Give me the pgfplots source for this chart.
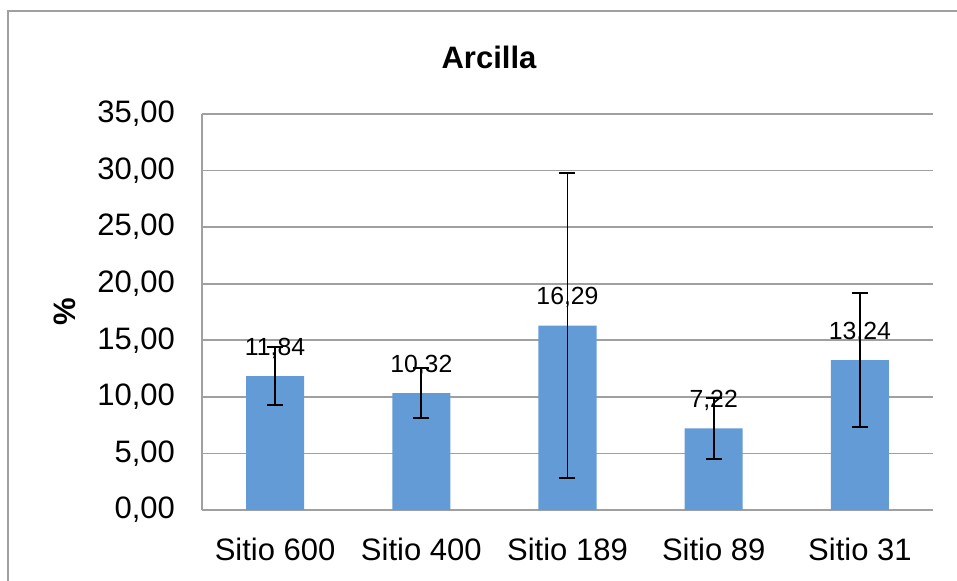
\documentclass[border=0pt]{standalone}
\usepackage{pgfplots}
\pgfplotsset{compat=1.18}
\usepackage{fontspec}
\setmainfont{Liberation Sans}
\definecolor{barblue}{RGB}{99,155,215}
\definecolor{gridgray}{RGB}{160,160,160}
\begin{document}
\begin{tikzpicture}[x=1pt,y=1pt]
\clip (-101,-35) rectangle (377.5,255);
\draw[gridgray, line width=0.8pt] (-97,-40) -- (-97,249.5) -- (390,249.5);
\begin{axis}[
  at={(0,0)}, anchor=south west,
  scale only axis,
  width=365.5pt, height=198pt,
  ymin=0, ymax=35, ytick={0,5,...,35},
  xmin=-0.5, xmax=4.5,
  xtick={0,1,2,3,4},
  xticklabels={Sitio 600,Sitio 400,Sitio 189,Sitio 89,Sitio 31},
  ymajorgrids, grid style={gridgray, line width=0.8pt},
  axis x line*=bottom, axis y line*=left,
  axis line style={gridgray, line width=0.8pt},
  major tick length=0pt,
  every axis plot/.append style={line width=0.9pt},
  /pgf/number format/.cd, use comma, fixed, fixed zerofill, precision=2, assume math mode=true,
  /pgfplots/.cd,
  tick label style={font=\fontsize{15.5}{18}\selectfont, black},
  yticklabel style={xshift=-10pt},
  xticklabel style={yshift=-10.5pt},
  title={\bfseries Arcilla},
  title style={font=\fontsize{15.5}{18}\selectfont, at={(287/731,1)}, yshift=13pt},
  ylabel={\bfseries\%},
  ylabel style={font=\fontsize{15.5}{18}\selectfont, at={(-137/731,0.5)}, anchor=center},
  ybar, bar width=29pt,
  nodes near coords,
  every node near coord/.append style={font=\fontsize{12.4}{14}\selectfont, black, anchor=center, yshift=14pt},
]
\addplot[fill=barblue, draw=none,
  error bars/.cd, y dir=both, y explicit,
  error bar style={black, line width=0.9pt},
  error mark options={rotate=90, mark size=4pt, black, line width=0.9pt}]
  coordinates {
  (0,11.84) +- (0,2.56)
  (1,10.32) +- (0,2.21)
  (2,16.29) +- (0,13.48)
  (3,7.22) +- (0,2.70)
  (4,13.24) +- (0,5.93)
};
\end{axis}
\end{tikzpicture}
\end{document}
